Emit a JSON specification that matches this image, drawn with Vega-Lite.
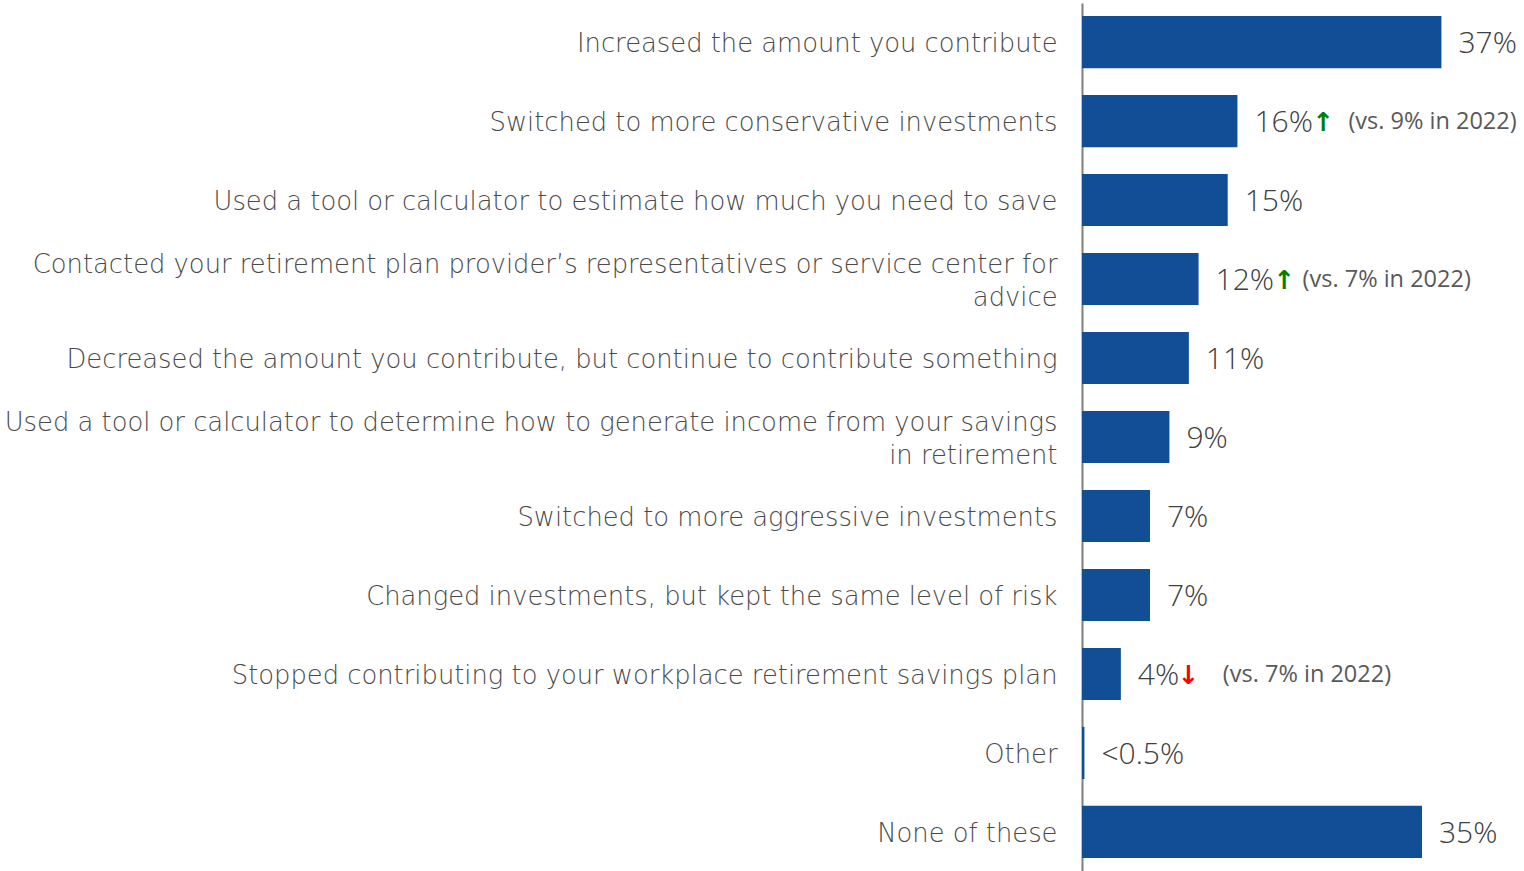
{
  "$schema": "https://vega.github.io/schema/vega-lite/v6.json",
  "width": 442,
  "height": 868,
  "autosize": {"type": "none"},
  "padding": {"left": 1082, "top": 3, "right": 0, "bottom": 0},
  "background": "white",
  "config": {"view": {"stroke": null}},
  "data": {
    "values": [
      {"item": "Increased the amount you contribute", "value": 37, "label": "37%", "arrow": "", "dir": "", "note": ""},
      {"item": "Switched to more conservative investments", "value": 16, "label": "16%", "arrow": "↑", "dir": "up", "note": "(vs. 9% in 2022)"},
      {"item": "Used a tool or calculator to estimate how much you need to save", "value": 15, "label": "15%", "arrow": "", "dir": "", "note": ""},
      {"item": "Contacted your retirement plan provider’s representatives or service center for|advice", "value": 12, "label": "12%", "arrow": "↑", "dir": "up", "note": "(vs. 7% in 2022)"},
      {"item": "Decreased the amount you contribute, but continue to contribute something", "value": 11, "label": "11%", "arrow": "", "dir": "", "note": ""},
      {"item": "Used a tool or calculator to determine how to generate income from your savings|in retirement", "value": 9, "label": "9%", "arrow": "", "dir": "", "note": ""},
      {"item": "Switched to more aggressive investments", "value": 7, "label": "7%", "arrow": "", "dir": "", "note": ""},
      {"item": "Changed investments, but kept the same level of risk", "value": 7, "label": "7%", "arrow": "", "dir": "", "note": ""},
      {"item": "Stopped contributing to your workplace retirement savings plan", "value": 4, "label": "4%", "arrow": "↓", "dir": "down", "note": "(vs. 7% in 2022)"},
      {"item": "Other", "value": 0.25, "label": "<0.5%", "arrow": "", "dir": "", "note": ""},
      {"item": "None of these", "value": 35, "label": "35%", "arrow": "", "dir": "", "note": ""}
    ]
  },
  "encoding": {
    "y": {
      "field": "item",
      "type": "nominal",
      "sort": null,
      "scale": {"paddingInner": 0.34, "paddingOuter": 0.165},
      "axis": {
        "title": null,
        "ticks": false,
        "domain": true,
        "domainColor": "#7f7f7f",
        "domainWidth": 2,
        "labelExpr": "split(datum.value, '|')",
        "labelFont": "DejaVu Sans",
        "labelFontWeight": 300,
        "labelFontSize": 25.8,
        "labelColor": "#4a4a4a",
        "labelPadding": 25,
        "labelLimit": 1100,
        "labelLineHeight": 33,
        "labelOffset": {"condition": {"test": "indexof(datum.value, '|') >= 0", "value": -14}, "value": 2}
      }
    },
    "x": {
      "field": "value",
      "type": "quantitative",
      "scale": {"domain": [0, 45.5], "nice": false},
      "axis": null
    }
  },
  "layer": [
    {"mark": {"type": "bar", "color": "#124E96"}},
    {
      "mark": {"type": "text", "align": "left", "baseline": "middle", "dx": 17, "dy": 2, "font": "Open Sans", "fontWeight": 300, "fontSize": 30, "color": "#404040"},
      "encoding": {"text": {"field": "label"}}
    },
    {
      "transform": [{"filter": "datum.arrow != ''"}],
      "mark": {"type": "text", "align": "left", "baseline": "middle", "dx": {"expr": "datum.value < 10 ? 57 : 75"}, "dy": 2, "font": "DejaVu Sans", "fontSize": 26, "fontWeight": "bold"},
      "encoding": {
        "text": {"field": "arrow"},
        "color": {"field": "dir", "type": "nominal", "scale": {"domain": ["up", "down"], "range": ["#008000", "#ff0000"]}, "legend": null}
      }
    },
    {
      "transform": [{"filter": "datum.note != ''"}],
      "mark": {"type": "text", "align": "left", "baseline": "middle", "dx": {"expr": "datum.value > 14 ? 111 : datum.value > 10 ? 104 : 102"}, "dy": 1, "font": "Open Sans", "fontSize": 23.5, "color": "#595959"},
      "encoding": {"text": {"field": "note"}}
    }
  ]
}
